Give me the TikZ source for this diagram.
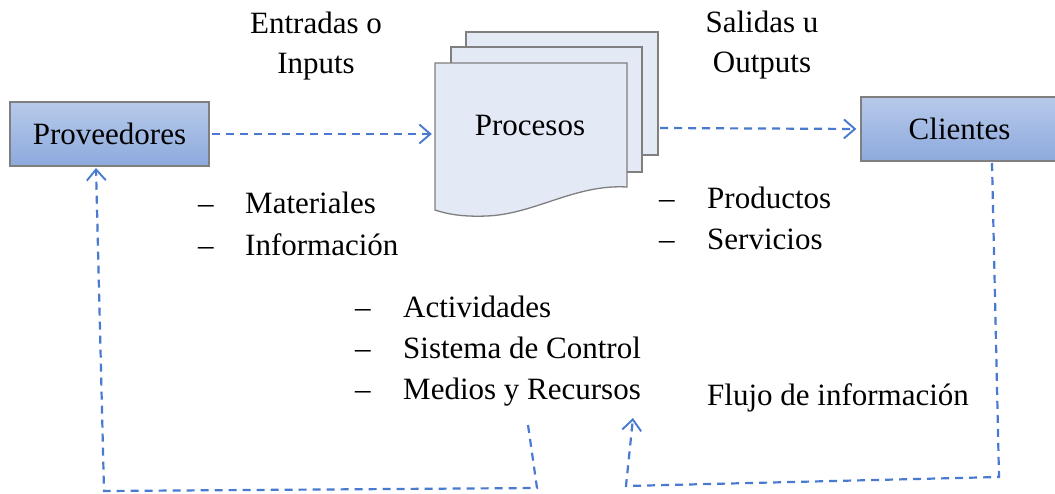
\documentclass[tikz,border=0pt]{standalone}
\usepackage{fontspec}
\setmainfont{Liberation Serif}
\usetikzlibrary{arrows.meta}
\definecolor{flow}{HTML}{4A7AD0}
\definecolor{boxtop}{HTML}{B7CAEA}
\definecolor{boxbot}{HTML}{8DA9DD}
\definecolor{pagefill}{HTML}{E3E9F5}
\definecolor{edge}{HTML}{7F7F7F}
\tikzset{
  actor/.style={draw=edge, line width=1.3pt, top color=boxtop, bottom color=boxbot,
    minimum height=64pt, inner sep=0pt, font=\fontsize{31}{37}\selectfont},
  page/.style={draw=edge, line width=1.3pt, fill=pagefill},
  flowline/.style={draw=flow, line width=2.2pt, dash pattern=on 8pt off 6pt},
  flowarrow/.style={flowline, -{Straight Barb[length=11pt,width=19pt,line width=1.9pt]}},
  txt/.style={inner sep=0pt, font=\fontsize{31}{37}\selectfont},
}
\begin{document}
\begin{tikzpicture}[x=1pt,y=-1pt]
\useasboundingbox (0,0) rectangle (1055,493);
% pages of Procesos
\draw[page] (466,32) rectangle (658,155);
\draw[page] (451,47) rectangle (642,172);
\draw[page] (435,63) -- (627,63) -- (627,187)
  .. controls (575,184) and (535,214) .. (487,216)
  .. controls (462,217) and (447,214) .. (435,210) -- cycle;
\node[txt, anchor=base] (proc) at (530,135) {Procesos};
\node[minimum width=192pt, minimum height=140pt, inner sep=0pt] (procbox) at (531,134) {};
% actors
\node[actor, minimum width=199pt] (prov) at (109.5,134) {Proveedores};
\node[actor, minimum width=197pt] (cli) at (959.5,129) {Clientes};
% headings
\node[txt, anchor=base] (ent1) at (316,33) {Entradas o};
\node[txt, anchor=base] (ent2) at (316,73) {Inputs};
\node[txt, anchor=base] (sal1) at (762,32) {Salidas u};
\node[txt, anchor=base] (sal2) at (762,72) {Outputs};
% lists
\node[txt, anchor=base west] (d1) at (198,213) {–};
\node[txt, anchor=base west] (t1) at (245,213) {Materiales};
\node[txt, anchor=base west] (d2) at (198,255) {–};
\node[txt, anchor=base west] (t2) at (245,255) {Información};
\node[txt, anchor=base west] (d3) at (659,208) {–};
\node[txt, anchor=base west] (t3) at (707,208) {Productos};
\node[txt, anchor=base west] (d4) at (659,249) {–};
\node[txt, anchor=base west] (t4) at (707,249) {Servicios};
\node[txt, anchor=base west] (d5) at (355,317) {–};
\node[txt, anchor=base west] (t5) at (403,317) {Actividades};
\node[txt, anchor=base west] (d6) at (355,358) {–};
\node[txt, anchor=base west] (t6) at (403,358) {Sistema de Control};
\node[txt, anchor=base west] (d7) at (355,399) {–};
\node[txt, anchor=base west] (t7) at (403,399) {Medios y Recursos};
\node[txt, anchor=base west] (flujo) at (707,405) {Flujo de información};
% main flow
\coordinate (pout) at (660,128);
\draw[flowarrow, shorten >=3pt, shorten <=2pt] (prov.east) -- (procbox.west);
\draw[flowarrow, shorten >=4pt] (pout) -- (cli.west);
% feedback loops
\coordinate (l1) at (528,425);
\coordinate (l2) at (537,488);
\coordinate (l3) at (104,491);
\coordinate (r1) at (992,163);
\coordinate (r2) at (999,477);
\coordinate (r3) at (626,486);
\coordinate (r4) at (633,418);
\coordinate (provin) at (96,168);
\draw[flowarrow] (l1) -- (l2) -- (l3) -- (provin);
\draw[flowarrow] (r1) -- (r2) -- (r3) -- (r4);
\end{tikzpicture}
\end{document}
